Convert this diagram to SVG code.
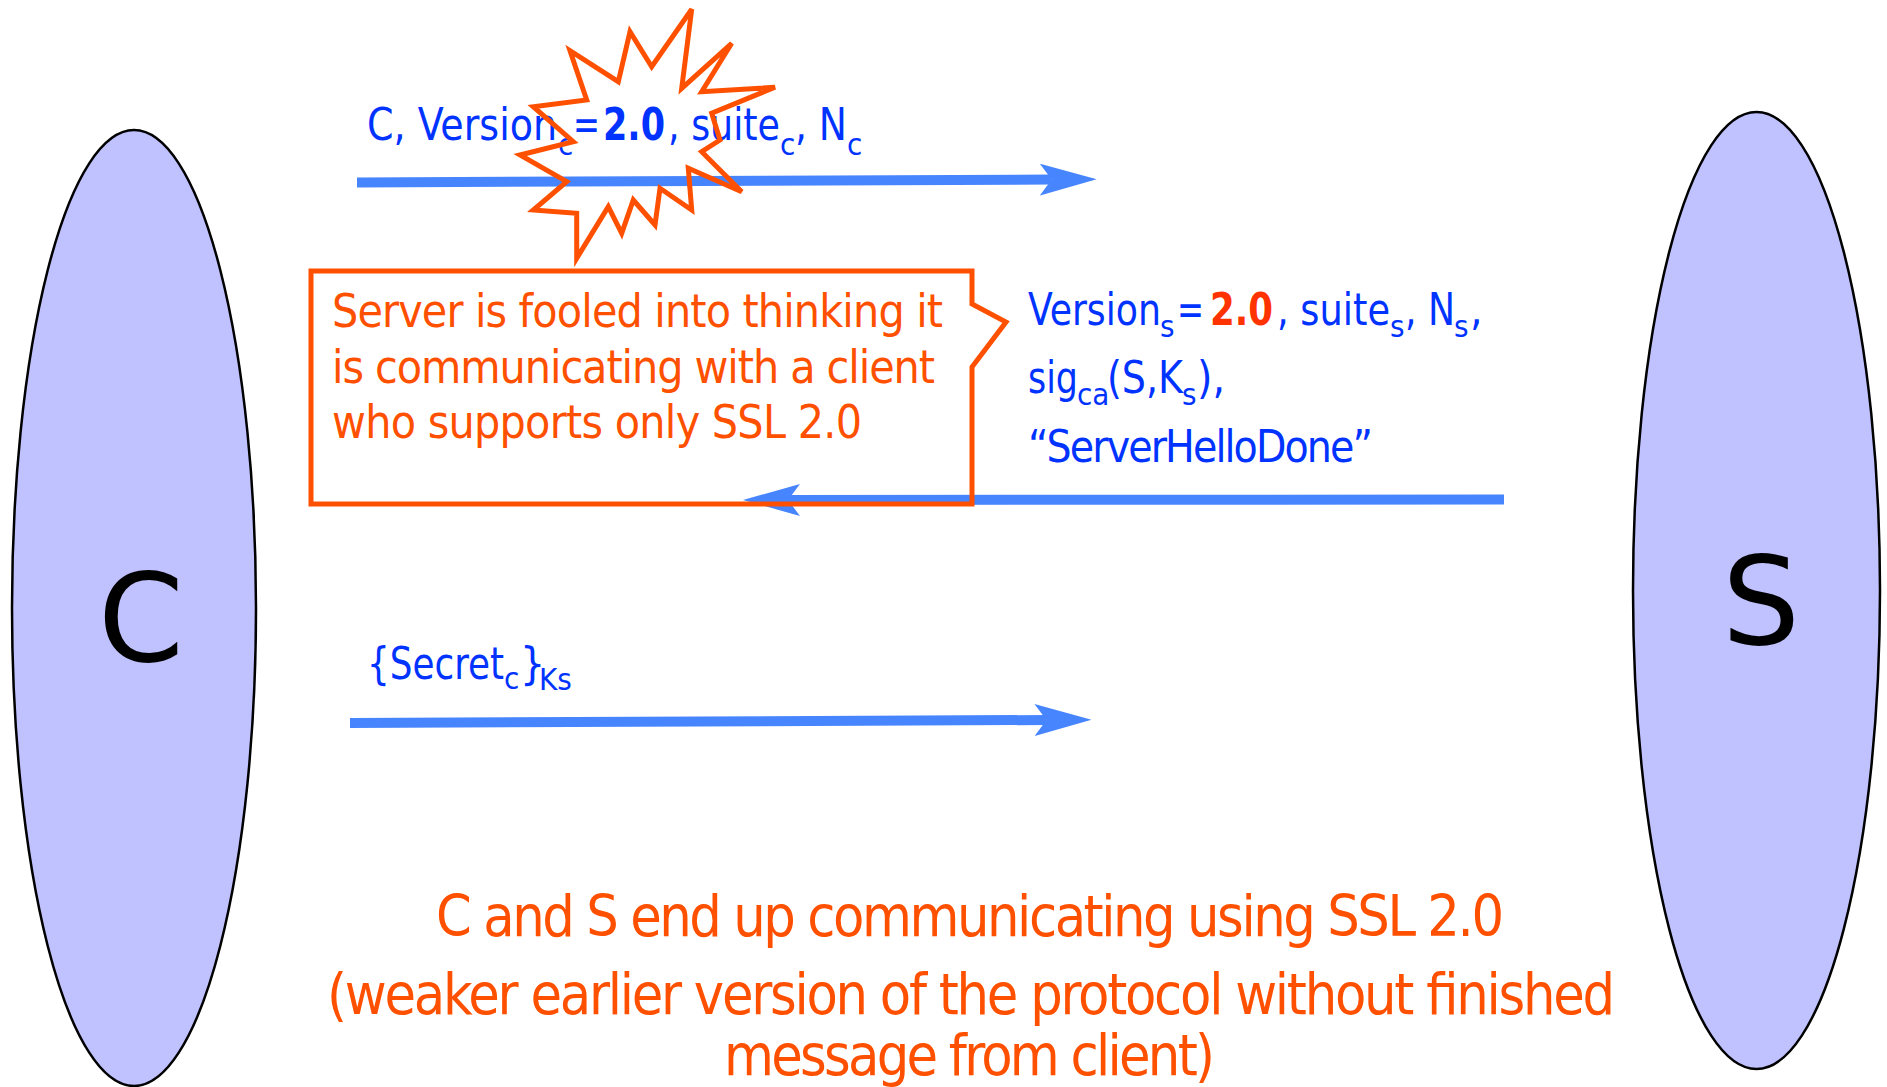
<svg xmlns="http://www.w3.org/2000/svg" width="1887" height="1087" viewBox="0 0 1887 1087">
<defs>
<style>
.party{fill:#C0C2FF;stroke:#000;stroke-width:2.5}
.big{font-family:'DejaVu Sans',Verdana,sans-serif;font-size:123px;fill:#000;text-anchor:middle}
.t{font-family:'DejaVu Sans Condensed','DejaVu Sans',sans-serif;font-stretch:condensed;font-size:44px;fill:#0033FF}
.sub{font-size:31px}
.b{font-weight:bold}
.red{fill:#FF3300}
.note{font-family:'DejaVu Sans Condensed','DejaVu Sans',sans-serif;font-stretch:condensed;fill:#FF5000}
.msg{fill:none;stroke:#4785FF;stroke-width:10;marker-end:url(#head)}
.orange{fill:none;stroke:#FF5000;stroke-width:5;stroke-linejoin:miter}
</style>
<marker id="head" markerUnits="userSpaceOnUse" viewBox="0 -16 57 32" markerWidth="57" markerHeight="32" refX="12" refY="0" orient="auto">
<path d="M0,-16 L57,0 L0,16 L12,0 Z" fill="#4785FF"/>
</marker>
</defs>
<rect width="1887" height="1087" fill="#fff"/>

<g id="node-client">
<ellipse class="party" cx="134" cy="608" rx="122" ry="478"/>
<text class="big" x="141" y="661">C</text>
</g>
<g id="node-server">
<ellipse class="party" cx="1756.5" cy="590.5" rx="123.5" ry="478.5"/>
<text class="big" x="1761" y="644">S</text>
</g>

<g id="connectors">
<line class="msg" x1="357" y1="182.5" x2="1051.7" y2="179.5"/>
<line class="msg" x1="1504" y1="499.5" x2="788" y2="500"/>
<line class="msg" x1="350" y1="723" x2="1046.5" y2="720"/>
</g>

<g id="label-msg1">
<text class="t" y="140"><tspan x="367" textLength="190" lengthAdjust="spacingAndGlyphs">C, Version</tspan><tspan class="sub" x="558" y="155">c</tspan><tspan x="573" y="140" textLength="27" lengthAdjust="spacingAndGlyphs">=</tspan><tspan class="b" x="603" textLength="62" lengthAdjust="spacingAndGlyphs">2.0</tspan><tspan x="668" textLength="112" lengthAdjust="spacingAndGlyphs">, suite</tspan><tspan class="sub" x="780" y="155">c</tspan><tspan x="795" y="140" textLength="52" lengthAdjust="spacingAndGlyphs">, N</tspan><tspan class="sub" x="847" y="155">c</tspan></text>
</g>

<g id="label-msg2">
<text class="t" y="325"><tspan x="1028" textLength="133" lengthAdjust="spacingAndGlyphs">Version</tspan><tspan class="sub" x="1160" y="337">s</tspan><tspan x="1177" y="325" textLength="27" lengthAdjust="spacingAndGlyphs">=</tspan><tspan class="b red" x="1210" textLength="63" lengthAdjust="spacingAndGlyphs">2.0</tspan><tspan x="1277" textLength="113" lengthAdjust="spacingAndGlyphs">, suite</tspan><tspan class="sub" x="1390" y="337">s</tspan><tspan x="1405" y="325" textLength="50" lengthAdjust="spacingAndGlyphs">, N</tspan><tspan class="sub" x="1454" y="337">s</tspan><tspan x="1470" y="325">,</tspan></text>
<text class="t" y="393"><tspan x="1028" textLength="50" lengthAdjust="spacingAndGlyphs">sig</tspan><tspan class="sub" x="1077" y="405">ca</tspan><tspan x="1107" y="393" textLength="76" lengthAdjust="spacingAndGlyphs">(S,K</tspan><tspan class="sub" x="1182" y="405">s</tspan><tspan x="1197" y="393">),</tspan></text>
<text class="t" x="1028" y="462" textLength="345">“ServerHelloDone”</text>
</g>

<g id="label-msg3">
<text class="t" y="679"><tspan x="367" textLength="137" lengthAdjust="spacingAndGlyphs">{Secret</tspan><tspan class="sub" x="504" y="689">c</tspan><tspan x="520" y="679">}</tspan><tspan class="sub" x="539" y="690">Ks</tspan></text>
</g>

<g id="starburst">
<polygon class="orange" points="691.7,9.3 681.7,88.3 731.7,43.3 701.7,91.7 775,87.3 711.7,113.3 720,140 701.7,151.7 741.7,191.7 688.3,168.3 691.7,210 660,188.3 655,225 633.3,200 621.7,233.3 608.3,206.7 576.7,258.3 576.7,213.3 533.3,210 566.7,181.7 520,155 573.3,141.7 533.3,106.7 586.7,100 570,50.7 618.3,81.7 630,31.7 651.7,66.7"/>
</g>

<g id="callout">
<polygon class="orange" points="311,271 972,271 972,304 1006,322 972,367 972,504 311,504"/>
<text class="note" font-size="46" x="332" y="327" textLength="611">Server is fooled into thinking it</text>
<text class="note" font-size="46" x="332" y="383" textLength="603">is communicating with a client</text>
<text class="note" font-size="46" x="332" y="438" textLength="530">who supports only SSL 2.0</text>
</g>

<g id="conclusion">
<text class="note" font-size="57" x="436" y="936" textLength="1068">C and S end up communicating using SSL 2.0</text>
<text class="note" font-size="57" x="327" y="1014" textLength="1288">(weaker earlier version of the protocol without finished</text>
<text class="note" font-size="57" x="724" y="1075" textLength="491">message from client)</text>
</g>
</svg>
